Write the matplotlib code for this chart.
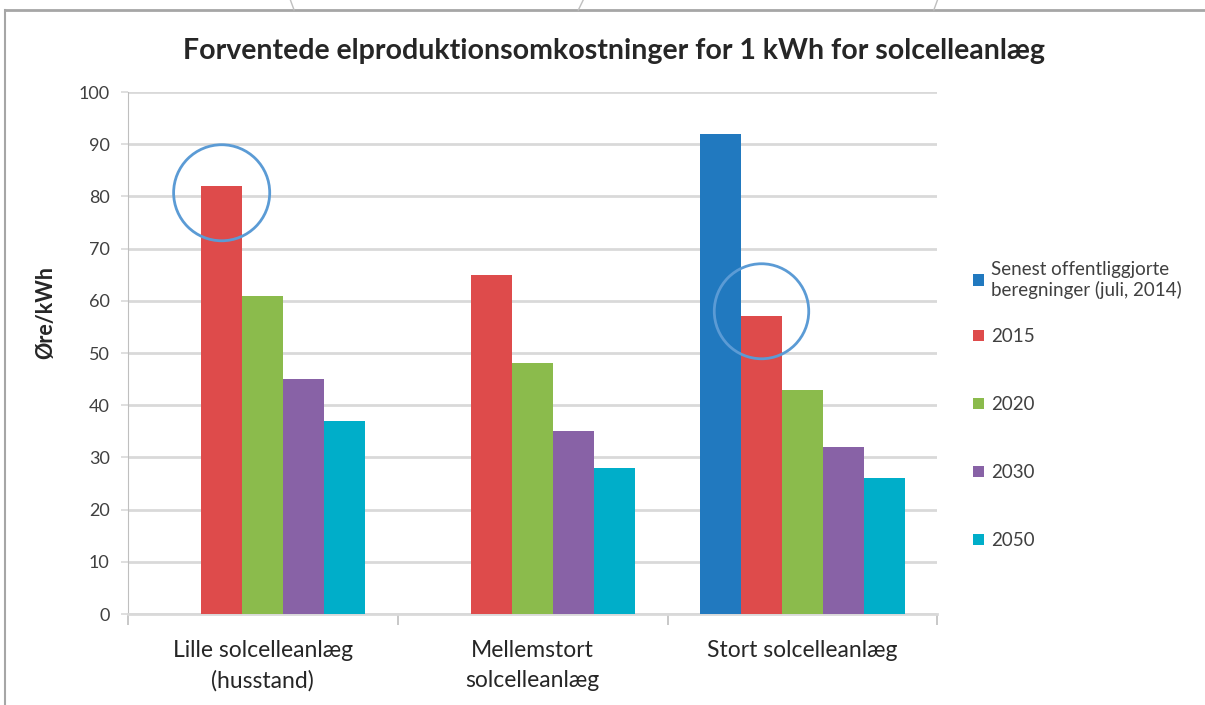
import matplotlib
matplotlib.use("Agg")
import matplotlib.pyplot as plt
from matplotlib.patches import Ellipse
from matplotlib.lines import Line2D
import numpy as np

plt.rcParams['font.family'] = ['Lato', 'DejaVu Sans']

categories = ["Lille solcelleanlæg\n(husstand)", "Mellemstort\nsolcelleanlæg", "Stort solcelleanlæg"]
series_names = ["Senest offentliggjorte\nberegninger (juli, 2014)", "2015", "2020", "2030", "2050"]
senest = [np.nan, np.nan, 92]
y2015 = [82, 65, 57]
y2020 = [61, 48, 43]
y2030 = [45, 35, 32]
y2050 = [37, 28, 26]
colors = ["#2179BF", "#DE4B4B", "#8BBB4C", "#8862A6", "#00AEC9"]

all_series = [senest, y2015, y2020, y2030, y2050]

fig = plt.figure(figsize=(12.05, 7.05), dpi=100)
ax = fig.add_axes([0.106, 0.129, 0.672, 0.7405])

x = np.arange(len(categories))
w = 0.152
bars = []
for i, (vals, name, c) in enumerate(zip(all_series, series_names, colors)):
    b = ax.bar(x + (i - 2) * w, vals, w, color=c, label=name, zorder=3)
    bars.append(b)

ax.set_xlim(-0.5, 2.5)
ax.set_ylim(0, 100)
ax.set_yticks(range(0, 101, 10))
ax.yaxis.grid(True, color="#D9D9D9", linewidth=2, zorder=0)
ax.set_axisbelow(True)

ax.set_xticks(x)
ax.set_xticklabels(categories, fontsize=16.5, color="#262626", linespacing=1.5)
ax.set_xticks([-0.5, 0.5, 1.5, 2.5], minor=True)
ax.tick_params(axis='x', which='major', length=0, pad=19)
ax.tick_params(axis='x', which='minor', length=8, color="#BFBFBF", width=1.2)
ax.tick_params(axis='y', length=5, color="#D9D9D9", width=1.2, labelsize=13, labelcolor="#404040", pad=8)

for s in ['top', 'right']:
    ax.spines[s].set_visible(False)
ax.spines['left'].set_color("#BFBFBF")
ax.spines['bottom'].set_color("#D9D9D9")
ax.spines['bottom'].set_linewidth(2)

ax.set_ylabel("Øre/kWh", fontsize=15.5, fontweight='bold', color="#262626")
ax.yaxis.set_label_coords(-0.088, 0.577)

ax.set_title("Forventede elproduktionsomkostninger for 1 kWh for solcelleanlæg",
             fontsize=20.5, fontweight='bold', color="#262626", pad=24, x=0.6)

# legend: first entry separately, the years evenly spaced below
leg1 = ax.legend(handles=[bars[0]], labels=[series_names[0]], loc='center left',
                 bbox_to_anchor=(1.044, 0.64), frameon=False, fontsize=13.5,
                 handlelength=0.6, handleheight=0.6, handletextpad=0.35,
                 borderaxespad=0, borderpad=0, labelcolor="#404040")
ax.add_artist(leg1)
ax.legend(handles=bars[1:], labels=series_names[1:], loc='center left',
          bbox_to_anchor=(1.044, 0.336), frameon=False, fontsize=13.5,
          handlelength=0.6, handleheight=0.6, handletextpad=0.35,
          borderaxespad=0, borderpad=0, labelspacing=2.72, labelcolor="#404040")

# circles highlighting the 2015 bars
ax.add_patch(Ellipse((-w, 80.7), 0.356, 18.4, fill=False, edgecolor="#5B9BD5",
                     linewidth=2, zorder=5, clip_on=False))
ax.add_patch(Ellipse((2 - w, 58.0), 0.35, 18.2, fill=False, edgecolor="#5B9BD5",
                     linewidth=2, zorder=5, clip_on=False))

# frame of the screenshot
fig.add_artist(Line2D([0.004, 1.0], [0.986, 0.986], color="#A6A6A6", linewidth=2))
fig.add_artist(Line2D([0.004, 0.004], [0.0, 0.986], color="#A6A6A6", linewidth=1.5))
for x0, x1 in [(0.241, 0.244), (0.484, 0.480), (0.778, 0.775)]:
    fig.add_artist(Line2D([x0, x1], [1.0, 0.986], color="#BFBFBF", linewidth=1))

fig.savefig("out.png", dpi=100)
